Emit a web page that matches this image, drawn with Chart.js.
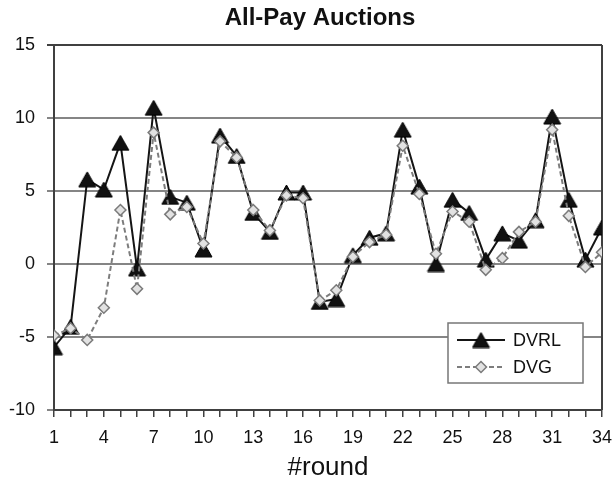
<!DOCTYPE html>
<html>
<head>
<meta charset="utf-8">
<script src="https://cdn.jsdelivr.net/npm/chart.js@4/dist/chart.umd.min.js"></script>
<style>
  html, body { margin: 0; padding: 0; background: #fff; }
  #wrap { width: 613px; height: 482px; }
</style>
</head>
<body>
<div id="wrap"><canvas id="c" width="613" height="482"></canvas></div>
<script>
// Rounds of the auction experiment
const rounds = [1, 2, 3, 4, 5, 6, 7, 8, 9, 10, 11, 12, 13, 14, 15, 16, 17,
                18, 19, 20, 21, 22, 23, 24, 25, 26, 27, 28, 29, 30, 31, 32, 33, 34];

// Series values per round
const dvrl = [-5.7, -4.3, 5.8, 5.1, 8.3, -0.3, 10.7, 4.6, 4.2, 1.0, 8.8, 7.4, 3.5, 2.2,
              4.9, 4.9, -2.6, -2.4, 0.6, 1.8, 2.1, 9.2, 5.3, 0.0, 4.4, 3.5, 0.3, 2.1,
              1.6, 3.0, 10.1, 4.4, 0.3, 2.5];
const dvg  = [-4.9, -4.4, -5.2, -3.0, 3.7, -1.7, 9.0, 3.4, 3.9, 1.4, 8.4, 7.3, 3.7, 2.3,
              4.7, 4.5, -2.5, -1.8, 0.5, 1.5, 2.0, 8.1, 4.8, 0.7, 3.6, 2.9, -0.4, 0.4,
              2.2, 2.9, 9.2, 3.3, -0.2, 0.8];

// Axis settings
const yTicks = [-10, -5, 0, 5, 10, 15];
const xLabelEvery = 3;
const titleText = 'All-Pay Auctions';
const xTitle = '#round';
const seriesNames = ['DVRL', 'DVG'];

const FONT = "'Liberation Sans', Arial, sans-serif";

// Filled triangle marker, centred on its bounding box
function triangleMarker() {
  const cv = document.createElement('canvas');
  cv.width = 19; cv.height = 17;
  const g = cv.getContext('2d');
  g.beginPath();
  g.moveTo(9.5, 1);
  g.lineTo(18, 16);
  g.lineTo(1, 16);
  g.closePath();
  g.fillStyle = '#111';
  g.fill();
  g.lineWidth = 1;
  g.strokeStyle = '#000';
  g.stroke();
  return cv;
}
const tri = triangleMarker();

const toXY = (vals) => vals.map((v, i) => ({ x: rounds[i], y: v }));

// Right frame edge, drawn beneath the series
const frameEdge = {
  id: 'frameEdge',
  beforeDatasetsDraw(chart) {
    const { ctx, chartArea: a } = chart;
    ctx.save();
    ctx.strokeStyle = '#404040';
    ctx.lineWidth = 2;
    ctx.beginPath();
    ctx.moveTo(a.right, a.top);
    ctx.lineTo(a.right, a.bottom);
    ctx.stroke();
    ctx.restore();
  }
};

// Title and boxed legend inside the plot
const decor = {
  id: 'decor',
  afterDraw(chart) {
    const { ctx, chartArea: a } = chart;
    ctx.save();
    ctx.fillStyle = '#111';
    ctx.font = 'bold 24px ' + FONT;
    ctx.textAlign = 'center';
    ctx.textBaseline = 'alphabetic';
    ctx.fillText(titleText, 320, 25);

    const bx = a.right - 154, by = a.bottom - 87, bw = 135, bh = 60;
    ctx.fillStyle = '#fff';
    ctx.fillRect(bx, by, bw, bh);
    ctx.strokeStyle = '#777';
    ctx.lineWidth = 1.5;
    ctx.strokeRect(bx, by, bw, bh);

    const sets = chart.data.datasets;
    const order = [1, 0];
    order.forEach((di, row) => {
      const ds = sets[di];
      const y = by + 17 + row * 27;
      const x0 = bx + 9, x1 = bx + 57, xm = (x0 + x1) / 2;
      ctx.save();
      ctx.strokeStyle = ds.borderColor;
      ctx.lineWidth = ds.borderWidth;
      ctx.setLineDash(ds.borderDash || []);
      ctx.beginPath();
      ctx.moveTo(x0, y);
      ctx.lineTo(x1, y);
      ctx.stroke();
      ctx.restore();
      ctx.save();
      ctx.fillStyle = ds.pointBackgroundColor;
      ctx.strokeStyle = ds.pointBorderColor;
      ctx.lineWidth = ds.pointBorderWidth;
      Chart.helpers.drawPoint(ctx, {
        pointStyle: ds.pointStyle,
        radius: ds.pointRadius,
        rotation: 0,
        borderWidth: ds.pointBorderWidth
      }, xm, y);
      ctx.restore();
      ctx.fillStyle = '#111';
      ctx.font = '18px ' + FONT;
      ctx.textAlign = 'left';
      ctx.textBaseline = 'middle';
      ctx.fillText(ds.label, x1 + 8, y + 1);
    });
    ctx.restore();
  }
};

new Chart(document.getElementById('c'), {
  type: 'line',
  data: {
    datasets: [
      {
        label: seriesNames[1],
        data: toXY(dvg),
        borderColor: '#7d7d7d',
        borderWidth: 2,
        borderDash: [5, 3],
        pointStyle: 'rectRot',
        pointRadius: 5.5,
        pointBackgroundColor: '#e2e2e2',
        pointBorderColor: '#7a7a7a',
        pointBorderWidth: 1.5,
        tension: 0
      },
      {
        label: seriesNames[0],
        data: toXY(dvrl),
        borderColor: '#151515',
        borderWidth: 2,
        pointStyle: tri,
        pointRadius: 9,
        pointBackgroundColor: '#111',
        pointBorderColor: '#000',
        pointBorderWidth: 1,
        tension: 0
      }
    ]
  },
  options: {
    responsive: false,
    animation: false,
    events: [],
    layout: { padding: { left: 0, right: 11, top: 45, bottom: 0 } },
    plugins: {
      legend: { display: false },
      title: { display: false },
      tooltip: { enabled: false }
    },
    scales: {
      x: {
        type: 'linear',
        min: rounds[0],
        max: rounds[rounds.length - 1],
        afterBuildTicks: (s) => { s.ticks = rounds.map(v => ({ value: v })); },
        afterFit: (s) => { s.height = 72; s.paddingLeft = 0; s.paddingRight = 0; },
        ticks: {
          autoSkip: false,
          maxRotation: 0,
          padding: 10,
          color: '#111',
          font: { family: FONT, size: 18 },
          callback: (v) => ((v - rounds[0]) % xLabelEvery === 0 ? String(v) : '')
        },
        grid: {
          drawOnChartArea: false,
          drawTicks: true,
          tickLength: 7,
          color: '#404040',
          lineWidth: 1.5
        },
        border: { color: '#404040', width: 2 },
        title: {
          display: true,
          text: xTitle,
          color: '#111',
          font: { family: FONT, size: 26, lineHeight: 1.1 },
          padding: { top: 0, bottom: 0 }
        }
      },
      y: {
        min: yTicks[0],
        max: yTicks[yTicks.length - 1],
        afterBuildTicks: (s) => { s.ticks = yTicks.map(v => ({ value: v })); },
        afterFit: (s) => { s.width = 54; s.paddingTop = 0; s.paddingBottom = 0; },
        ticks: {
          padding: 12,
          color: '#111',
          font: { family: FONT, size: 18 }
        },
        grid: {
          color: (c) => (c.tick && c.tick.value === yTicks[yTicks.length - 1] ? '#404040' : '#858585'),
          lineWidth: 2,
          tickLength: 7
        },
        border: { color: '#404040', width: 2 }
      }
    }
  },
  plugins: [frameEdge, decor]
});
</script>
</body>
</html>
